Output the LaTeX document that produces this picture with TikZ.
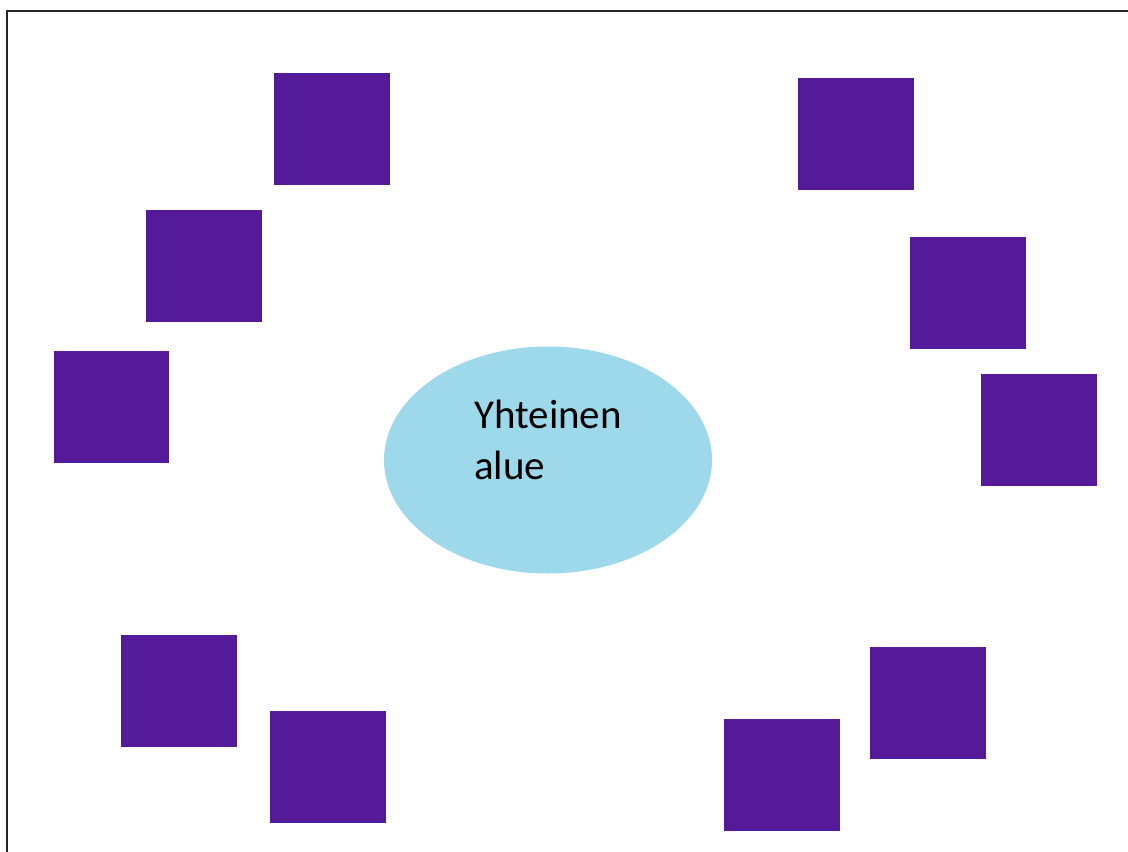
\documentclass[tikz,border=0pt]{standalone}
\usepackage{fontspec}
\setmainfont{Carlito}
\usetikzlibrary{shapes.geometric}
\definecolor{sqpurple}{RGB}{85,26,153}
\definecolor{areablue}{RGB}{157,217,234}
\begin{document}
\begin{tikzpicture}[x=1pt,y=-1pt,
  sq/.style={fill=sqpurple,draw=none},
  area/.style={ellipse,fill=areablue,draw=none,minimum width=328pt,minimum height=227pt,inner sep=0pt},
  lbl/.style={anchor=base west,inner sep=0pt,font=\fontsize{41}{50}\selectfont}]
\useasboundingbox (0,0) rectangle (1128,852);
\fill[white] (0,0) rectangle (1128,852);
% frame (top and left edges visible)
\draw[line width=2.5pt,black!85] (7,880) -- (7,11) -- (1140,11);
% squares
\fill[sq] (274,73) rectangle (390,185);
\fill[sq] (146,210) rectangle (262,322);
\fill[sq] (54,351) rectangle (169,463);
\fill[sq] (121,635) rectangle (237,747);
\fill[sq] (270,711) rectangle (386,823);
\fill[sq] (798,78) rectangle (914,190);
\fill[sq] (910,237) rectangle (1026,349);
\fill[sq] (981,374) rectangle (1097,486);
\fill[sq] (870,647) rectangle (986,759);
\fill[sq] (724,719) rectangle (840,831);
% central area
\node[area] (alue) at (548,460) {};
\node[lbl] (t1) at (474,428) {Yhteinen};
\node[lbl] (t2) at (474,479) {alue};
\end{tikzpicture}
\end{document}
